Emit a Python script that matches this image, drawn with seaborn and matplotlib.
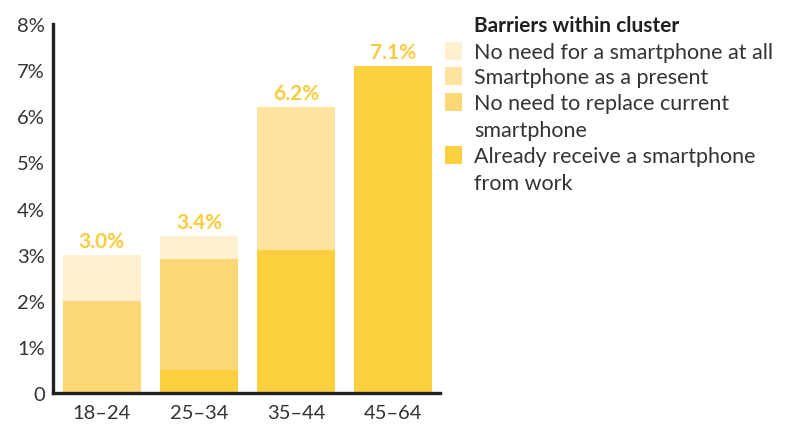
"""Stacked bar chart: barriers within cluster by age group."""

import matplotlib

matplotlib.use("Agg")

import matplotlib.pyplot as plt
import pandas as pd
import seaborn as sns
from matplotlib.patches import Rectangle

# data (percent of cluster)
age_groups = ["18–24", "25–34", "35–44", "45–64"]
already_receive = [0.0, 0.5, 3.1, 7.1]
no_need_replace = [2.0, 2.4, 0.0, 0.0]
as_present = [0.0, 0.0, 3.1, 0.0]
no_need_at_all = [1.0, 0.5, 0.0, 0.0]

legend_title = "Barriers within cluster"
legend_labels = [
    "No need for a smartphone at all",
    "Smartphone as a present",
    "No need to replace current\nsmartphone",
    "Already receive a smartphone\nfrom work",
]
y_tick_labels = ["0", "1%", "2%", "3%", "4%", "5%", "6%", "7%", "8%"]

colors = ["#FEF0D0", "#FDE39E", "#FCD776", "#FCCF3E"]
label_color = "#FACB3C"
dark = "#231F20"

sns.set_theme(style="white")
plt.rcParams["font.family"] = ["Lato", "DejaVu Sans"]

df = pd.DataFrame(
    {
        "age": age_groups,
        "already": already_receive,
        "replace": no_need_replace,
        "present": as_present,
        "no_need": no_need_at_all,
    }
)
# cumulative heights, drawn from tallest to shortest so layers overlap into a stack
layers = ["already", "replace", "present", "no_need"]
cum = df[layers].cumsum(axis=1)
df["total"] = cum["no_need"]

fig = plt.figure(figsize=(7.95, 4.27), dpi=100)
ax = fig.add_axes([0.0667, 0.0773, 0.4868, 0.8637])

for layer, color in zip(reversed(layers), colors):
    sns.barplot(
        x=df["age"],
        y=cum[layer],
        color=color,
        width=0.8,
        saturation=1,
        linewidth=0,
        ax=ax,
    )

for i, total in enumerate(df["total"]):
    ax.annotate(
        f"{total:.1f}%",
        xy=(i, total),
        xytext=(0, 3),
        textcoords="offset points",
        ha="center",
        va="bottom",
        fontsize=15,
        fontweight="bold",
        color=label_color,
    )

ax.set_xlim(-0.5, 3.48)
ax.set_ylim(0, 8)
ax.set_yticks(range(len(y_tick_labels)))
ax.set_yticklabels(y_tick_labels)
ax.set_xlabel("")
ax.set_ylabel("")
ax.tick_params(axis="both", length=0, labelsize=14.5, labelcolor="#333333")
ax.tick_params(axis="y", pad=6)
ax.tick_params(axis="x", pad=8)
sns.despine(ax=ax)
for side in ["left", "bottom"]:
    ax.spines[side].set_color(dark)
    ax.spines[side].set_linewidth(2.4)

# legend drawn by hand so that wrapped labels keep the patch on the first line
fig.text(474 / 795, 1 - 26 / 427, legend_title, fontsize=15, fontweight="bold",
         color=dark, va="center", ha="left")
row_y = [52, 77, 103, 156]
for y, label, color in zip(row_y, legend_labels, colors):
    fig.add_artist(
        Rectangle((445 / 795, 1 - (y + 9) / 427), 17 / 795, 18 / 427,
                  transform=fig.transFigure, color=color, lw=0)
    )
    fig.text(474 / 795, 1 - (y - 9) / 427, label, fontsize=15.5, color="#333333",
             va="top", ha="left", linespacing=1.42)

fig.savefig("out.png", dpi=100)
